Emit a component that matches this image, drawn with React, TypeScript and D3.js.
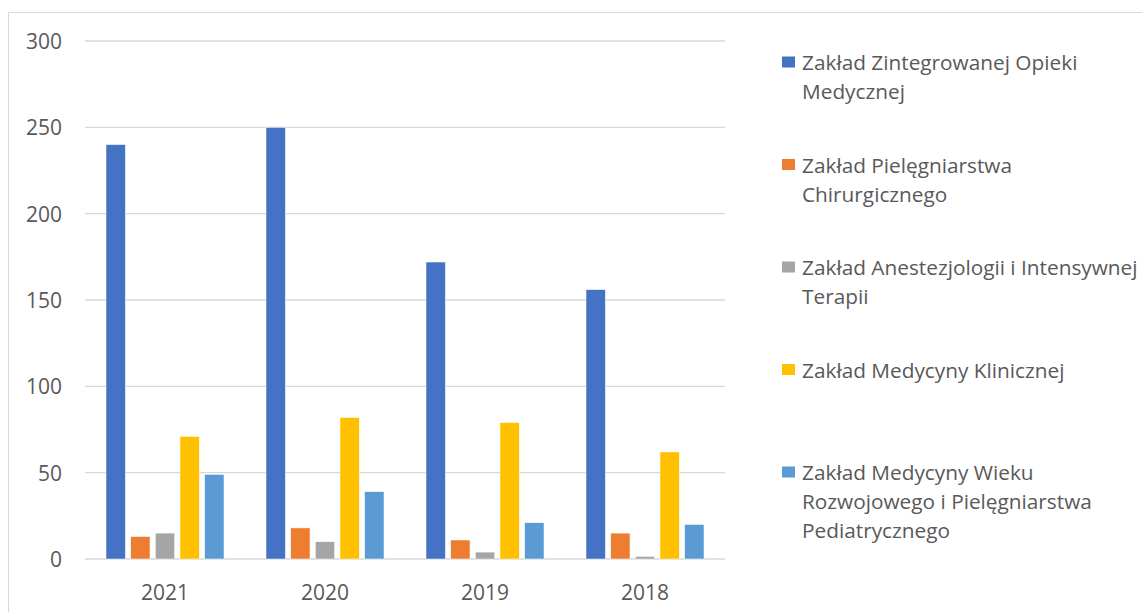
import React from "react";
import * as d3 from "d3";

const years = ["2021", "2020", "2019", "2018"];
const seriesNames = [
  "Zakład Zintegrowanej Opieki Medycznej",
  "Zakład Pielęgniarstwa Chirurgicznego",
  "Zakład Anestezjologii i Intensywnej Terapii",
  "Zakład Medycyny Klinicznej",
  "Zakład Medycyny Wieku Rozwojowego i Pielęgniarstwa Pediatrycznego",
];
const legendLines = [
  ["Zakład Zintegrowanej Opieki", "Medycznej"],
  ["Zakład Pielęgniarstwa", "Chirurgicznego"],
  ["Zakład Anestezjologii i Intensywnej", "Terapii"],
  ["Zakład Medycyny Klinicznej"],
  ["Zakład Medycyny Wieku", "Rozwojowego i Pielęgniarstwa", "Pediatrycznego"],
];
const colors = ["#4472C4", "#ED7D31", "#A5A5A5", "#FFC000", "#5B9BD5"];
// values per series, in order of years
const zintegrowanej = [240, 250, 172, 156];
const chirurgicznego = [13, 18, 11, 15];
const anestezjologii = [15, 10, 4, 1.5];
const kliniczna = [71, 82, 79, 62];
const pediatryczna = [49, 39, 21, 20];
const seriesValues = [zintegrowanej, chirurgicznego, anestezjologii, kliniczna, pediatryczna];
const yTicks = [0, 50, 100, 150, 200, 250, 300];

const W = 1142;
const H = 612;
const FONT = "'Open Sans', sans-serif";
const TEXT = "#595959";

export default function App() {
  const x0 = d3.scaleBand<string>().domain(years).range([85, 725]);
  const groupW = 118;
  const inner = (x0.bandwidth() - groupW) / 2;
  const x1 = d3
    .scaleBand<number>()
    .domain(d3.range(seriesNames.length))
    .range([inner, inner + groupW])
    .paddingInner(0.215);
  const y = d3.scaleLinear().domain([0, 300]).range([559, 41]);

  return (
    <svg
      width={W}
      height={H}
      style={{ position: "absolute", left: 0, top: 0, background: "#fff" }}
      fontFamily={FONT}
    >
      <rect x={8.5} y={12.5} width={W} height={H} fill="#fff" stroke="#d9d9d9" strokeWidth={1} />
      {yTicks.map((t) => (
        <g key={t}>
          <line x1={85} x2={725} y1={y(t)} y2={y(t)} stroke="#d9d9d9" strokeWidth={1.3} />
          <text x={62} y={y(t)} textAnchor="end" dominantBaseline="central" fontSize={21} fill={TEXT}>
            {t}
          </text>
        </g>
      ))}
      {seriesValues.map((vals, si) =>
        vals.map((v, yi) => (
          <rect
            key={`${si}-${yi}`}
            x={(x0(years[yi]) ?? 0) + (x1(si) ?? 0)}
            y={y(v)}
            width={x1.bandwidth()}
            height={y(0) - y(v)}
            fill={colors[si]}
            stroke="#fff"
            strokeWidth={0.5}
          />
        ))
      )}
      {years.map((yr) => (
        <text
          key={yr}
          x={(x0(yr) ?? 0) + x0.bandwidth() / 2}
          y={592}
          textAnchor="middle"
          dominantBaseline="central"
          fontSize={21}
          fill={TEXT}
        >
          {yr}
        </text>
      ))}
      {legendLines.map((lines, i) => {
        const cy = 62 + i * 102.5;
        return (
          <g key={i}>
            <rect x={782} y={cy - 5.5} width={13} height={11} fill={colors[i]} />
            {lines.map((ln, j) => (
              <text
                key={j}
                x={802}
                y={cy + j * 29}
                dominantBaseline="central"
                fontSize={20.8}
                fill={TEXT}
              >
                {ln}
              </text>
            ))}
          </g>
        );
      })}
    </svg>
  );
}
